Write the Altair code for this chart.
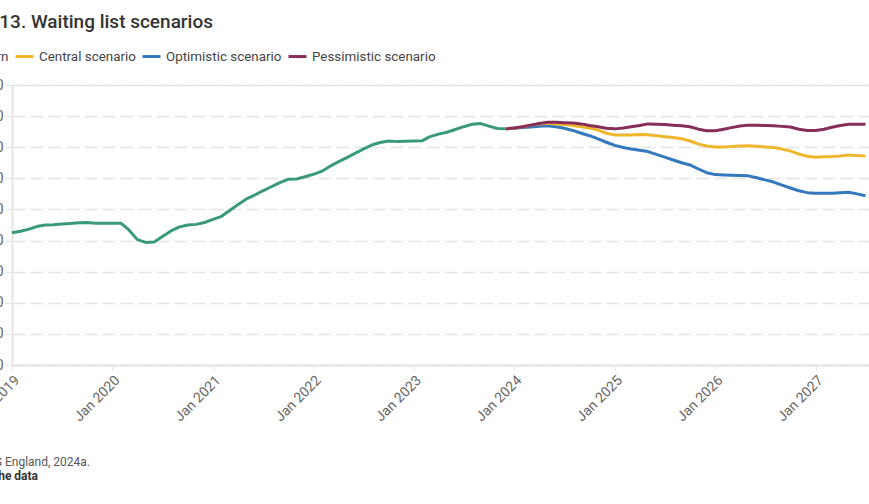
import altair as alt
import pandas as pd

# Waiting list, millions of pathways, monthly from Jan 2019
start_month = "2019-01-01"
series_names = ["Historic pattern", "Central scenario", "Optimistic scenario", "Pessimistic scenario"]
series_colors = ["#3a9a77", "#f0b72d", "#3478be", "#872d5a"]

# Recorded list, Jan 2019 - Dec 2023
actual = [
    4.25, 4.30, 4.36, 4.45, 4.50, 4.51, 4.53, 4.55, 4.57, 4.58, 4.56, 4.56,
    4.56, 4.56, 4.34, 4.03, 3.94, 3.95, 4.13, 4.31, 4.44, 4.50, 4.52, 4.58,
    4.68, 4.78, 4.96, 5.15, 5.33, 5.46, 5.60, 5.73, 5.86, 5.97, 5.98, 6.05,
    6.13, 6.23, 6.38, 6.53, 6.66, 6.80, 6.94, 7.07, 7.15, 7.20, 7.18, 7.19,
    7.20, 7.21, 7.34, 7.42, 7.48, 7.57, 7.66, 7.74, 7.76, 7.68, 7.60, 7.59,
]

# Projections, Dec 2023 - Jul 2027
central = [
    7.59,
    7.62, 7.66, 7.71, 7.75, 7.77, 7.75, 7.73, 7.70, 7.66, 7.62, 7.55, 7.45,
    7.39, 7.39, 7.39, 7.41, 7.40, 7.37, 7.34, 7.31, 7.27, 7.20, 7.10, 7.04,
    7.01, 7.01, 7.02, 7.04, 7.05, 7.03, 7.01, 6.99, 6.94, 6.88, 6.78, 6.71,
    6.68, 6.69, 6.70, 6.72, 6.75, 6.73, 6.72,
]
optimistic = [
    7.59,
    7.61, 7.63, 7.65, 7.67, 7.69, 7.66, 7.61, 7.54, 7.45, 7.37, 7.27, 7.16,
    7.06, 6.99, 6.94, 6.90, 6.86, 6.77, 6.68, 6.59, 6.50, 6.43, 6.30, 6.18,
    6.12, 6.11, 6.10, 6.09, 6.08, 6.02, 5.95, 5.88, 5.78, 5.69, 5.60, 5.54,
    5.52, 5.52, 5.52, 5.54, 5.55, 5.50, 5.44,
]
pessimistic = [
    7.59,
    7.62, 7.66, 7.71, 7.76, 7.80, 7.80, 7.79, 7.78, 7.75, 7.70, 7.66, 7.61,
    7.59, 7.62, 7.66, 7.70, 7.75, 7.74, 7.73, 7.71, 7.69, 7.66, 7.58, 7.53,
    7.53, 7.58, 7.63, 7.68, 7.71, 7.71, 7.70, 7.69, 7.67, 7.65, 7.58, 7.54,
    7.54, 7.58, 7.64, 7.70, 7.74, 7.74, 7.74,
]

year_ticks = list(range(2019, 2028))
y_ticks = list(range(0, 10))

source_text = "Source: NHS England, 2024a."
data_link_text = "Get the data"

months = pd.date_range(start_month, periods=len(actual) + len(central) - 1, freq="MS")
proj_months = months[len(actual) - 1:]

frames = [pd.DataFrame({"date": months[:len(actual)], "value": actual, "series": series_names[0]})]
for name, vals in zip(series_names[1:], [central, optimistic, pessimistic]):
    frames.append(pd.DataFrame({"date": proj_months, "value": vals, "series": name}))
df = pd.concat(frames, ignore_index=True)
df["date"] = df["date"].dt.strftime("%Y-%m-%d")

GRID = "#e4e4e4"
FONT = "Roboto"

x_enc = alt.X(
    "date:T",
    scale=alt.Scale(domain=[alt.DateTime(year=2019, month=1, date=1),
                            alt.DateTime(year=2027, month=7, date=14)]),
    axis=alt.Axis(
        values=[alt.DateTime(year=y, month=1, date=1) for y in year_ticks],
        format="%b %Y", labelAngle=-45, title=None, grid=False,
        tickSize=5, tickColor=GRID, domainColor=GRID, domainWidth=2,
        labelFontSize=14, labelColor="#666", labelFont=FONT, labelPadding=3,
    ),
)
y_enc = alt.Y(
    "value:Q",
    scale=alt.Scale(domain=[0, 9], nice=False),
    axis=alt.Axis(
        values=y_ticks, labelExpr="format(datum.value * 1000000, ',')",
        title=None, grid=True, gridColor=GRID, gridDash=[13, 5], gridWidth=1.5,
        tickSize=7, tickColor=GRID, domainColor=GRID, domainWidth=2,
        labelFontSize=14, labelColor="#666", labelFont=FONT, labelPadding=2,
    ),
)
color_enc = alt.Color(
    "series:N",
    scale=alt.Scale(domain=series_names, range=series_colors),
    legend=alt.Legend(
        orient="none", legendX=-121, legendY=-39, direction="horizontal",
        title=None, symbolType="stroke", symbolSize=324, symbolStrokeWidth=3,
        labelFontSize=13.4, labelColor="#444", labelFont=FONT,
        columnPadding=0, labelOffset=4, padding=0,
    ),
)

base = alt.Chart(df).encode(x=x_enc, y=y_enc, color=color_enc)
draw_order = [series_names[0], series_names[2], series_names[1], series_names[3]]
lines = [
    base.transform_filter(alt.datum.series == s).mark_line(strokeWidth=3, strokeJoin="round")
    for s in draw_order
]

notes = pd.DataFrame({"source": [source_text], "link": [data_link_text]})
source = alt.Chart(notes).mark_text(
    align="right", baseline="middle", fontSize=12, font=FONT, color="#555"
).encode(x=alt.value(78), y=alt.value(377), text="source:N")
link = alt.Chart(notes).mark_text(
    align="right", baseline="middle", fontSize=12, font=FONT, fontWeight="bold", color="#333"
).encode(x=alt.value(26), y=alt.value(391), text="link:N")

chart = alt.layer(*lines, source, link).properties(
    width=857,
    height=280,
    title=alt.Title(
        "Figure 13. Waiting list scenarios", anchor="end", frame="group", dx=-656, dy=-10,
        fontSize=19, font=FONT, fontWeight=500, color="#333",
    ),
    padding={"left": 12, "top": 85, "right": 0, "bottom": 139},
    autosize=alt.AutoSizeParams(type="none"),
).configure_view(stroke=None).configure(background="white")

chart.save("out.html", embed_options={"renderer": "svg", "actions": False})
